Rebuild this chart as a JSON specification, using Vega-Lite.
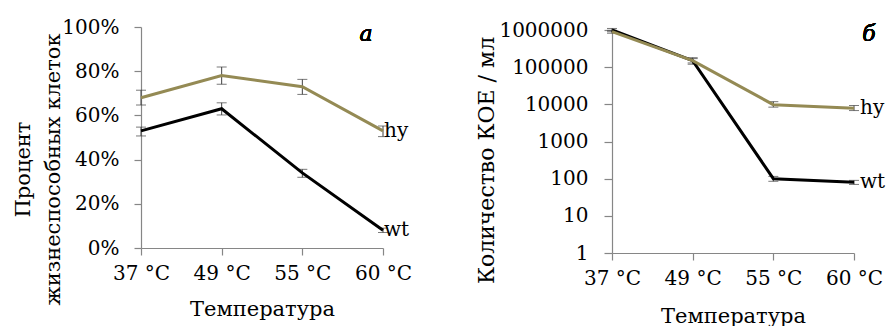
{
  "$schema": "https://vega.github.io/schema/vega-lite/v6.json",
  "padding": {"left": 12, "top": 17, "right": 0, "bottom": 0},
  "spacing": 229,
  "bounds": "flush",
  "config": {
    "view": {"stroke": null},
    "axis": {
      "grid": false,
      "domainColor": "#868686",
      "tickColor": "#868686",
      "domainWidth": 1.2,
      "tickWidth": 1.2,
      "labelColor": "#000000",
      "titleColor": "#000000",
      "labelFont": "DejaVu Serif",
      "titleFont": "DejaVu Serif",
      "labelFontSize": 20,
      "titleFontSize": 21,
      "titleFontWeight": "normal"
    },
    "text": {"font": "DejaVu Serif"}
  },
  "datasets": {
    "a": [
      {"series": "wt", "t": "37 °C", "v": 0.53, "lo": 0.507, "hi": 0.547},
      {"series": "wt", "t": "49 °C", "v": 0.63, "lo": 0.602, "hi": 0.657},
      {"series": "wt", "t": "55 °C", "v": 0.34, "lo": 0.32, "hi": 0.356},
      {"series": "wt", "t": "60 °C", "v": 0.08, "lo": 0.07, "hi": 0.09},
      {"series": "hy", "t": "37 °C", "v": 0.68, "lo": 0.647, "hi": 0.714},
      {"series": "hy", "t": "49 °C", "v": 0.78, "lo": 0.741, "hi": 0.819},
      {"series": "hy", "t": "55 °C", "v": 0.73, "lo": 0.695, "hi": 0.763},
      {"series": "hy", "t": "60 °C", "v": 0.53, "lo": 0.504, "hi": 0.552}
    ],
    "b": [
      {"series": "wt", "t": "37 °C", "v": 1000000, "lo": 900000, "hi": 1100000},
      {"series": "wt", "t": "49 °C", "v": 150000, "lo": 130000, "hi": 170000},
      {"series": "wt", "t": "55 °C", "v": 100, "lo": 85, "hi": 115},
      {"series": "wt", "t": "60 °C", "v": 80, "lo": 70, "hi": 90},
      {"series": "hy", "t": "37 °C", "v": 900000, "lo": 820000, "hi": 980000},
      {"series": "hy", "t": "49 °C", "v": 150000, "lo": 120000, "hi": 180000},
      {"series": "hy", "t": "55 °C", "v": 9800, "lo": 8400, "hi": 11800},
      {"series": "hy", "t": "60 °C", "v": 7800, "lo": 6800, "hi": 9300}
    ]
  },
  "hconcat": [
    {
      "width": 242,
      "height": 221,
      "data": {"name": "a"},
      "encoding": {
        "x": {
          "field": "t", "type": "ordinal",
          "sort": ["37 °C", "49 °C", "55 °C", "60 °C"],
          "scale": {"type": "point", "padding": 0},
          "axis": {"labelAngle": 0, "tickSize": 7, "labelPadding": 8, "title": "Температура", "titleX": 121, "titleY": 61, "titleBaseline": "middle", "titleAnchor": null}
        }
      },
      "layer": [
        {
          "mark": {"type": "rule", "color": "#404040", "strokeWidth": 1},
          "encoding": {
            "y": {"field": "lo", "type": "quantitative", "scale": {"domain": [0, 1]},
              "axis": {"format": ".0%", "values": [0, 0.2, 0.4, 0.6, 0.8, 1], "tickSize": 7, "labelPadding": 15,
                "title": ["Процент", "жизнеспособных клеток"], "titleAngle": 270, "titleX": -118, "titleY": 142,
                "titleAlign": "center", "titleBaseline": "middle", "titleLineHeight": 30}},
            "y2": {"field": "hi"}
          }
        },
        {
          "mark": {"type": "tick", "color": "#404040", "thickness": 1, "size": 10},
          "encoding": {"y": {"field": "lo", "type": "quantitative"}}
        },
        {
          "mark": {"type": "tick", "color": "#404040", "thickness": 1, "size": 10},
          "encoding": {"y": {"field": "hi", "type": "quantitative"}}
        },
        {
          "mark": {"type": "line", "strokeWidth": 3},
          "encoding": {
            "y": {"field": "v", "type": "quantitative"},
            "color": {"field": "series", "type": "nominal", "scale": {"domain": ["wt", "hy"], "range": ["#000000", "#948A54"]}, "legend": null}
          }
        },
        {
          "transform": [{"filter": "datum.t === '60 °C'"}],
          "mark": {"type": "text", "align": "left", "baseline": "middle", "dx": 1, "fontSize": 20, "color": "#000000"},
          "encoding": {
            "y": {"field": "v", "type": "quantitative"},
            "text": {"field": "series"}
          }
        },
        {
          "mark": {"type": "text", "align": "center", "baseline": "middle", "dx": -17, "fontSize": 22, "fontStyle": "italic", "fontWeight": "normal", "color": "#000000"},
          "encoding": {
            "x": {"datum": "60 °C"},
            "y": {"datum": 0.97},
            "text": {"value": "а"}
          }
        }
      ]
    },
    {
      "width": 242,
      "height": 226,
      "data": {"name": "b"},
      "encoding": {
        "x": {
          "field": "t", "type": "ordinal",
          "sort": ["37 °C", "49 °C", "55 °C", "60 °C"],
          "scale": {"type": "point", "padding": 0},
          "axis": {"labelAngle": 0, "tickSize": 7, "labelPadding": 8, "title": "Температура", "titleX": 121, "titleY": 63, "titleBaseline": "middle", "titleAnchor": null}
        }
      },
      "layer": [
        {
          "mark": {"type": "rule", "color": "#404040", "strokeWidth": 1},
          "encoding": {
            "y": {"field": "lo", "type": "quantitative", "scale": {"type": "log", "domain": [1, 1000000], "range": [226, 3]},
              "axis": {"format": "d", "values": [1, 10, 100, 1000, 10000, 100000, 1000000], "tickSize": 8, "labelPadding": 16,
                "title": "Количество КОЕ / мл", "titleAngle": 270, "titleX": -126, "titleY": 133,
                "titleAlign": "center", "titleBaseline": "middle", "titleFontSize": 22}},
            "y2": {"field": "hi"}
          }
        },
        {
          "mark": {"type": "tick", "color": "#404040", "thickness": 1, "size": 10},
          "encoding": {"y": {"field": "lo", "type": "quantitative"}}
        },
        {
          "mark": {"type": "tick", "color": "#404040", "thickness": 1, "size": 10},
          "encoding": {"y": {"field": "hi", "type": "quantitative"}}
        },
        {
          "mark": {"type": "line", "strokeWidth": 3},
          "encoding": {
            "y": {"field": "v", "type": "quantitative"},
            "color": {"field": "series", "type": "nominal", "scale": {"domain": ["wt", "hy"], "range": ["#000000", "#948A54"]}, "legend": null}
          }
        },
        {
          "transform": [{"filter": "datum.t === '60 °C'"}],
          "mark": {"type": "text", "align": "left", "baseline": "middle", "dx": 6, "fontSize": 20, "color": "#000000"},
          "encoding": {
            "y": {"field": "v", "type": "quantitative"},
            "text": {"field": "series"}
          }
        },
        {
          "mark": {"type": "text", "align": "center", "baseline": "middle", "dx": 15, "fontSize": 22, "fontStyle": "italic", "fontWeight": "normal", "color": "#000000"},
          "encoding": {
            "x": {"datum": "60 °C"},
            "y": {"datum": 800000},
            "text": {"value": "б"}
          }
        }
      ]
    }
  ]
}
